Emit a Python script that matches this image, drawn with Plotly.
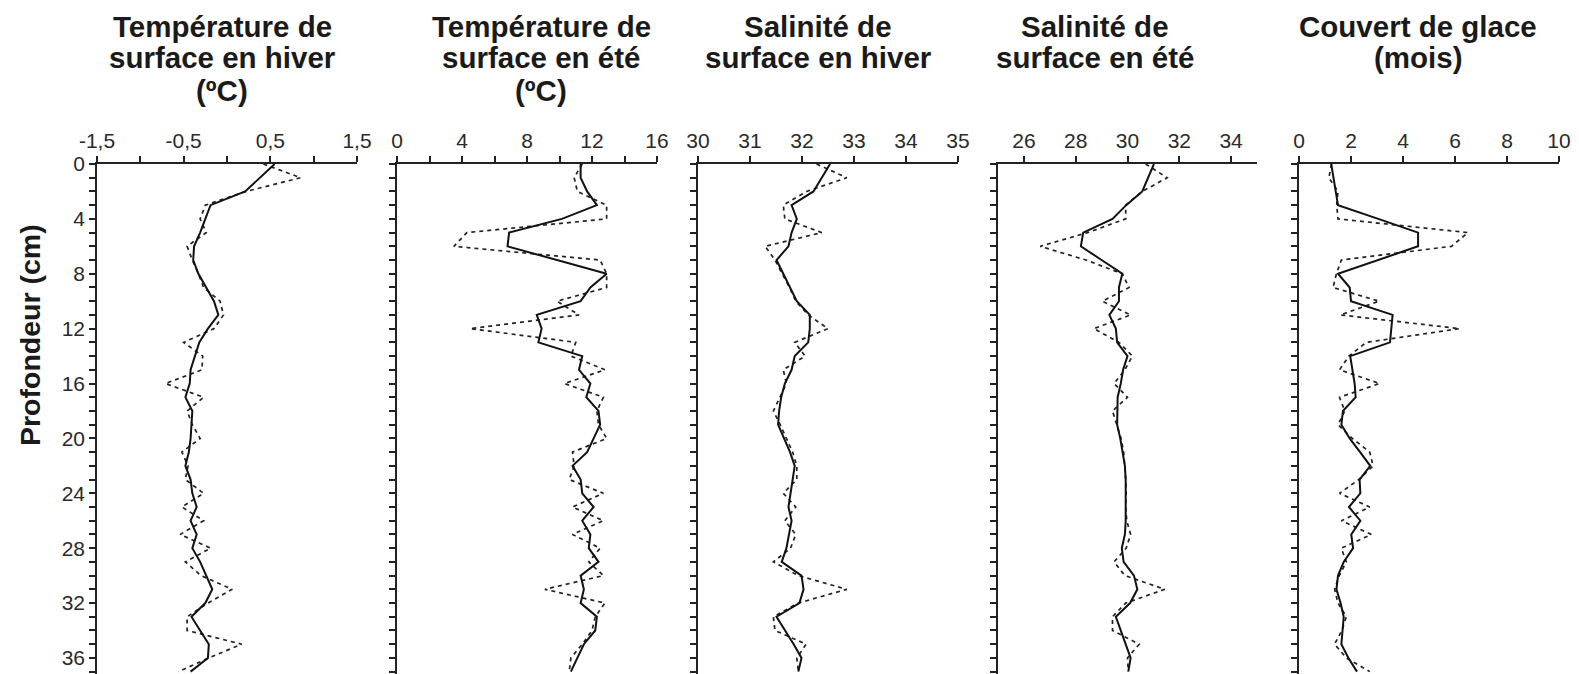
import plotly.graph_objects as go

depth = list(range(0, 38))

# Panel 1: Température de surface en hiver (°C)
t_hiver_solid = [0.55, 0.38, 0.21, -0.19, -0.25, -0.31, -0.38, -0.39, -0.33, -0.24,
                 -0.15, -0.10, -0.22, -0.32, -0.37, -0.42, -0.43, -0.48, -0.40, -0.41,
                 -0.42, -0.44, -0.48, -0.42, -0.40, -0.35, -0.42, -0.35, -0.40, -0.31,
                 -0.24, -0.17, -0.25, -0.41, -0.31, -0.21, -0.22, -0.42]
t_hiver_dot = [0.42, 0.85, 0.22, -0.25, -0.31, -0.24, -0.46, -0.40, -0.33, -0.27,
               -0.08, -0.04, -0.15, -0.50, -0.28, -0.29, -0.71, -0.27, -0.46, -0.40,
               -0.31, -0.52, -0.45, -0.48, -0.27, -0.52, -0.27, -0.54, -0.19, -0.48,
               -0.30, 0.06, -0.22, -0.46, -0.46, 0.17, -0.21, -0.56]

# Panel 2: Température de surface en été (°C)
t_ete_solid = [11.3, 11.3, 11.7, 12.3, 10.15, 6.9, 6.8, 9.8, 12.9, 11.9,
               11.3, 8.6, 8.9, 8.7, 11.4, 11.2, 11.9, 11.65, 12.4, 12.5,
               12.1, 11.7, 10.8, 11.3, 11.4, 12.1, 11.4, 11.9, 11.8, 12.4,
               11.3, 11.5, 11.3, 12.3, 12.2, 11.5, 11.1, 10.7]
t_ete_dot = [11.4, 10.9, 11.1, 12.9, 12.9, 4.3, 3.5, 12.5, 12.9, 12.9,
             9.85, 11.2, 4.5, 11.0, 10.7, 12.8, 10.3, 12.7, 12.3, 12.4,
             12.9, 10.8, 10.9, 10.6, 12.7, 10.8, 12.7, 10.8, 12.5, 11.8,
             12.7, 9.1, 12.8, 12.2, 12.0, 11.4, 10.7, 10.6]

# Panel 3: Salinité de surface en hiver
s_hiver_solid = [32.54, 32.38, 32.22, 31.80, 31.90, 31.80, 31.74, 31.51, 31.64, 31.77,
                 31.90, 32.15, 32.15, 32.12, 31.86, 31.80, 31.67, 31.60, 31.56, 31.54,
                 31.65, 31.77, 31.86, 31.82, 31.78, 31.74, 31.80, 31.75, 31.70, 31.61,
                 31.99, 32.03, 31.95, 31.51, 31.68, 31.84, 31.99, 31.93]
s_hiver_dot = [32.28, 32.86, 32.09, 31.64, 31.67, 32.38, 31.29, 31.48, 31.62, 31.76,
               31.88, 32.12, 32.50, 31.86, 32.06, 31.64, 31.70, 31.58, 31.45, 31.58,
               31.70, 31.82, 31.90, 31.90, 31.64, 31.88, 31.67, 31.88, 31.78, 31.45,
               31.93, 32.86, 31.93, 31.45, 31.48, 32.08, 31.90, 31.93]

# Panel 4: Salinité de surface en été
s_ete_solid = [31.02, 30.80, 30.57, 29.95, 29.42, 28.29, 28.20, 29.00, 29.80, 29.67,
               29.67, 29.30, 29.55, 29.60, 30.00, 29.83, 29.74, 29.62, 29.60, 29.60,
               29.72, 29.82, 29.90, 29.93, 29.93, 29.93, 29.93, 29.90, 29.78, 29.85,
               30.25, 30.38, 30.10, 29.55, 29.75, 29.95, 30.12, 30.03]
s_ete_dot = [30.70, 31.53, 30.57, 29.93, 29.93, 28.46, 26.63, 28.40, 29.80, 30.06,
             29.03, 30.12, 28.70, 29.67, 30.19, 29.90, 29.48, 30.00, 29.42, 29.60,
             29.75, 29.85, 29.90, 29.93, 29.95, 29.93, 29.97, 30.12, 29.95, 29.48,
             29.90, 31.44, 29.93, 29.42, 29.42, 30.45, 30.00, 30.03]

# Panel 5: Couvert de glace (mois)
glace_solid = [1.24, 1.33, 1.42, 1.50, 3.05, 4.58, 4.58, 3.05, 1.50, 1.95,
               2.00, 3.60, 3.55, 3.50, 1.97, 2.05, 2.14, 2.18, 1.69, 1.63,
               1.95, 2.35, 2.74, 2.33, 2.36, 1.92, 2.36, 2.01, 2.08, 1.72,
               1.50, 1.44, 1.60, 1.72, 1.68, 1.63, 1.90, 2.23]
glace_dot = [1.25, 1.15, 1.50, 1.45, 1.50, 6.50, 5.86, 1.63, 1.44, 1.31,
             3.08, 1.59, 6.18, 2.59, 1.92, 1.56, 3.10, 1.56, 1.76, 1.50,
             2.05, 2.72, 2.85, 2.30, 1.56, 2.72, 1.63, 2.78, 1.63, 1.82,
             1.55, 1.37, 1.50, 1.82, 1.65, 1.37, 1.82, 2.72]

titles = [
    ["Température de", "surface en hiver", "(ºC)"],
    ["Température de", "surface en été", "(ºC)"],
    ["Salinité de", "surface en hiver"],
    ["Salinité de", "surface en été"],
    ["Couvert de glace", "(mois)"],
]
x_ranges = [[-1.5, 1.5], [0, 16], [30, 35], [25, 35], [0, 10]]
x_tickvals = [
    [-1.5, -1.0, -0.5, 0, 0.5, 1.0, 1.5],
    [0, 2, 4, 6, 8, 10, 12, 14, 16],
    [30, 31, 32, 33, 34, 35],
    [26, 28, 30, 32, 34],
    [0, 2, 4, 6, 8, 10],
]
x_ticktext = [
    ["-1,5", "", "-0,5", "", "0,5", "", "1,5"],
    ["0", "", "4", "", "8", "", "12", "", "16"],
    ["30", "31", "32", "33", "34", "35"],
    ["26", "28", "30", "32", "34"],
    ["0", "2", "4", "6", "8", "10"],
]
y_tickvals = list(range(0, 38))
y_ticktext = [str(d) if d % 4 == 0 else "" for d in y_tickvals]
y_title = "Profondeur (cm)"

series = [
    (t_hiver_solid, t_hiver_dot),
    (t_ete_solid, t_ete_dot),
    (s_hiver_solid, s_hiver_dot),
    (s_ete_solid, s_ete_dot),
    (glace_solid, glace_dot),
]

W, H = 1579, 674
# pixel layout
panel_px = [(97, 357), (397, 657), (698, 958), (998, 1257), (1299, 1559)]
title_cx = [222, 541, 818, 1095, 1418]
title_line_y = [26, 58, 91]
top_px = 164
bottom_px = 674
px_per_cm = 13.72
y_max = (bottom_px - top_px) / px_per_cm
ydom = [0, 1 - top_px / H]

fig = go.Figure()
font_fam = "Liberation Sans, Arial, sans-serif"
tick_font = dict(family=font_fam, size=21, color="#2a2a2a")
for i, (sol, dot) in enumerate(series):
    n = i + 1
    xa = "x" if n == 1 else f"x{n}"
    ya = "y" if n == 1 else f"y{n}"
    fig.add_trace(go.Scatter(x=dot, y=depth, xaxis=xa, yaxis=ya, mode="lines",
                             line=dict(color="#222222", width=1.7, dash="4px,4px"),
                             showlegend=False, hoverinfo="skip"))
    fig.add_trace(go.Scatter(x=sol, y=depth, xaxis=xa, yaxis=ya, mode="lines",
                             line=dict(color="#111111", width=2.0),
                             showlegend=False, hoverinfo="skip"))
    x0, x1 = panel_px[i]
    xkey = "xaxis" if n == 1 else f"xaxis{n}"
    ykey = "yaxis" if n == 1 else f"yaxis{n}"
    fig.update_layout(**{
        xkey: dict(domain=[x0 / W, x1 / W], range=x_ranges[i], side="top", anchor=ya,
                   showline=True, linecolor="#222", linewidth=1.5, showgrid=False,
                   zeroline=False, ticks="outside", ticklen=6, tickwidth=1.5,
                   tickcolor="#222", tickmode="array", tickvals=x_tickvals[i],
                   ticktext=x_ticktext[i], automargin=False, tickfont=tick_font),
        ykey: dict(domain=ydom, range=[y_max, 0], anchor=xa,
                   showline=True, linecolor="#222", linewidth=1.5, showgrid=False,
                   zeroline=False, ticks="outside", ticklen=6, tickwidth=1.5,
                   tickcolor="#222", tickmode="array", tickvals=y_tickvals,
                   ticktext=y_ticktext if n == 1 else [""] * len(y_tickvals),
                   showticklabels=(n == 1), automargin=False, tickfont=tick_font),
    })
    for j, line in enumerate(titles[i]):
        fig.add_annotation(text="<b>" + line + "</b>", xref="paper", yref="paper",
                           x=title_cx[i] / W, y=1 - title_line_y[j] / H,
                           xanchor="center", yanchor="middle", showarrow=False,
                           font=dict(family=font_fam, size=29.5, color="#1a1a1a"))

fig.add_annotation(text="<b>" + y_title + "</b>", xref="paper", yref="paper",
                   x=30 / W, y=1 - 335 / H, xanchor="center", yanchor="middle",
                   textangle=-90, showarrow=False,
                   font=dict(family=font_fam, size=28.5, color="#1a1a1a"))

fig.update_layout(width=W, height=H,
                  margin=dict(l=0, r=0, t=0, b=0, pad=0, autoexpand=False),
                  paper_bgcolor="white", plot_bgcolor="white", separators=", ")
fig.write_html("out.html")
